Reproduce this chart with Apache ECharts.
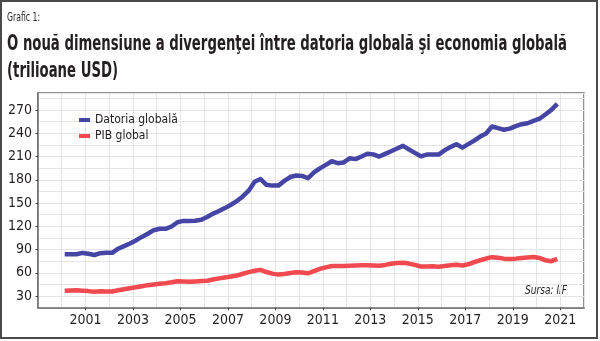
<!DOCTYPE html>
<html>
<head>
<meta charset="utf-8">
<script src="https://cdn.jsdelivr.net/npm/echarts@6/dist/echarts.min.js"></script>
<style>html,body{margin:0;padding:0;background:#fff;}#c{width:600px;height:341px;}</style>
</head>
<body>
<div id="c"></div>
<script>
// ---- data (quarterly, 2000Q1 .. 2020Q4), trillions USD ----
const startYear = 2000;
const endYear = 2020;
const seriesNames = ['Datoria globală', 'PIB global'];
const debtValues = [
  84, 83.8, 83.9, 85.7, 84.6, 83, 85.4, 85.8, 85.8, 91.1, 94.5, 97.8,
  101.8, 106.3, 110.4, 115, 116.8, 116.8, 119.8, 125.2, 127, 127, 127.2, 128.4,
  132, 136.4, 139.7, 143.5, 147.8, 152.6, 158.5, 166, 177.5, 181, 173.5, 172.5,
  172.5, 178.5, 183.6, 185.6, 185, 182, 189.5, 194.8, 199.3, 204, 201.5, 202.4,
  207.7, 206.7, 210, 213.6, 212.8, 210, 213.4, 216.8, 220.3, 223.8, 219.2, 214.7,
  210.3, 212.5, 212.5, 212.5, 218, 222.3, 226, 221.5, 226, 230.5, 235.8, 239.8,
  248.8, 246.6, 244.6, 246, 249.2, 251.8, 253, 256, 258.8, 264.3, 270.2, 278
];
const gdpValues = [
  36.8, 37.2, 37.5, 37, 36.4, 35.6, 36.1, 35.9, 36, 37.6, 38.9, 40.1,
  41.3, 42.7, 44.1, 45, 45.8, 46.6, 47.8, 49.2, 48.9, 48.6, 48.9, 49.3,
  49.7, 51.3, 52.8, 54, 55.2, 56.5, 58.8, 60.9, 62.7, 63.8, 61, 59,
  57.7, 58.6, 59.7, 60.6, 60.5, 59.4, 62.2, 65, 67, 68.8, 68.7, 68.7,
  69, 69.4, 69.8, 69.9, 69.6, 69.1, 70.2, 71.8, 72.6, 72.9, 71.9, 70.2,
  68.2, 68.2, 68.4, 67.9, 68.8, 69.8, 70.5, 69.5, 71, 73.8, 76.2, 78.4,
  80.2, 79.4, 78.3, 77.7, 78.3, 79.1, 79.8, 80.5, 79.2, 76.1, 75, 78
];
const xTickLabels = [2001, 2003, 2005, 2007, 2009, 2011, 2013, 2015, 2017, 2019, 2021];
const yTickLabels = [30, 60, 90, 120, 150, 180, 210, 240, 270];
const titleSmall = 'Grafic 1:';
const titleLine1 = 'O nouă dimensiune a divergenţei între datoria globală şi economia globală';
const titleLine2 = '(trilioane USD)';
const sourceText = 'Sursa: IIF';

// quarter positions (mid-quarter) on a numeric year axis
const quarterX = [];
for (let y = startYear; y <= endYear; y++) {
  for (let q = 1; q <= 4; q++) quarterX.push(y + (q - 0.5) / 4);
}

const FONT = '"Liberation Sans Narrow", "DejaVu Sans Condensed", "Roboto", sans-serif';
const measureCtx = document.createElement('canvas').getContext('2d');
function fitScale(text, font, targetW) {
  measureCtx.font = font;
  const w = measureCtx.measureText(text).width;
  return w > 0 ? targetW / w : 1;
}
function scaledText(text, font, x, y, targetW, fill, align) {
  return {
    type: 'text', x: x, y: y, scaleX: fitScale(text, font, targetW), silent: true,
    style: { text: text, font: font, fill: fill, align: align || 'left', verticalAlign: 'middle' }
  };
}

const fSmall = '13px ' + FONT;
const fTitle = 'bold 21px ' + FONT;
const fSrc = 'italic 12px ' + FONT;

const chart = echarts.init(document.getElementById('c'), null, { renderer: 'canvas' });
const axisColor = '#6e6e6e';
const gridColor = '#e4e4e4';
const textColor = '#231f20';

chart.setOption({
  animation: false,
  backgroundColor: '#ffffff',
  grid: { left: 38, right: 16, top: 93, bottom: 33.3, show: true, borderColor: axisColor, borderWidth: 1.5 },
  legend: {
    data: seriesNames, orient: 'vertical', left: 74, top: 109,
    itemWidth: 11, itemHeight: 4, itemGap: 4, icon: 'rect',
    textStyle: { fontSize: 12, fontFamily: FONT, color: textColor }
  },
  xAxis: [
    {
      type: 'value', min: 1999, max: 2022, interval: 1,
      axisLine: { show: false }, axisTick: { show: false }, axisLabel: { show: false },
      splitLine: { show: true, lineStyle: { color: gridColor, width: 1 } }
    },
    {
      type: 'value', min: 1999, max: 2022, position: 'bottom',
      axisLine: { show: true, lineStyle: { color: axisColor, width: 1.5 } },
      axisTick: { show: true, customValues: xTickLabels, length: 2.5, lineStyle: { color: '#444' } },
      axisLabel: { show: true, customValues: xTickLabels, fontSize: 14, fontFamily: FONT, color: textColor, margin: 6,
        formatter: v => String(v) },
      splitLine: { show: false }
    }
  ],
  yAxis: [
    {
      type: 'value', min: 15, max: 292, interval: 15,
      axisLine: { show: false }, axisTick: { show: false }, axisLabel: { show: false },
      splitLine: { show: true, lineStyle: { color: gridColor, width: 1 } }
    },
    {
      type: 'value', min: 15, max: 292, position: 'left',
      axisLine: { show: true, lineStyle: { color: axisColor, width: 1.5 } },
      axisTick: { show: true, customValues: yTickLabels, length: 2.5, lineStyle: { color: '#444' } },
      axisLabel: { show: true, customValues: yTickLabels, fontSize: 14, fontFamily: FONT, color: textColor, margin: 6,
        formatter: v => String(v) },
      splitLine: { show: false }
    }
  ],
  series: [
    {
      name: seriesNames[1], type: 'line', xAxisIndex: 0, yAxisIndex: 0,
      showSymbol: false, symbol: 'none', color: '#f04a50',
      lineStyle: { width: 4.5, color: '#f04a50', join: 'round' },
      data: gdpValues.map((v, i) => [quarterX[i], v])
    },
    {
      name: seriesNames[0], type: 'line', xAxisIndex: 0, yAxisIndex: 0,
      showSymbol: false, symbol: 'none', color: '#4545a5',
      lineStyle: { width: 4.5, color: '#4545a5', join: 'round' },
      data: debtValues.map((v, i) => [quarterX[i], v])
    }
  ],
  graphic: [
    { type: 'rect', silent: true, shape: { x: 1, y: 1, width: 596, height: 337 },
      style: { fill: 'none', stroke: '#4a4a4a', lineWidth: 2 } },
    scaledText(titleSmall, fSmall, 7, 18, 33, textColor),
    scaledText(titleLine1, fTitle, 7, 45, 560, textColor),
    scaledText(titleLine2, fTitle, 7, 72, 111, textColor),
    scaledText(sourceText, fSrc, 567, 291, 42, textColor, 'right')
  ]
});
</script>
</body>
</html>
